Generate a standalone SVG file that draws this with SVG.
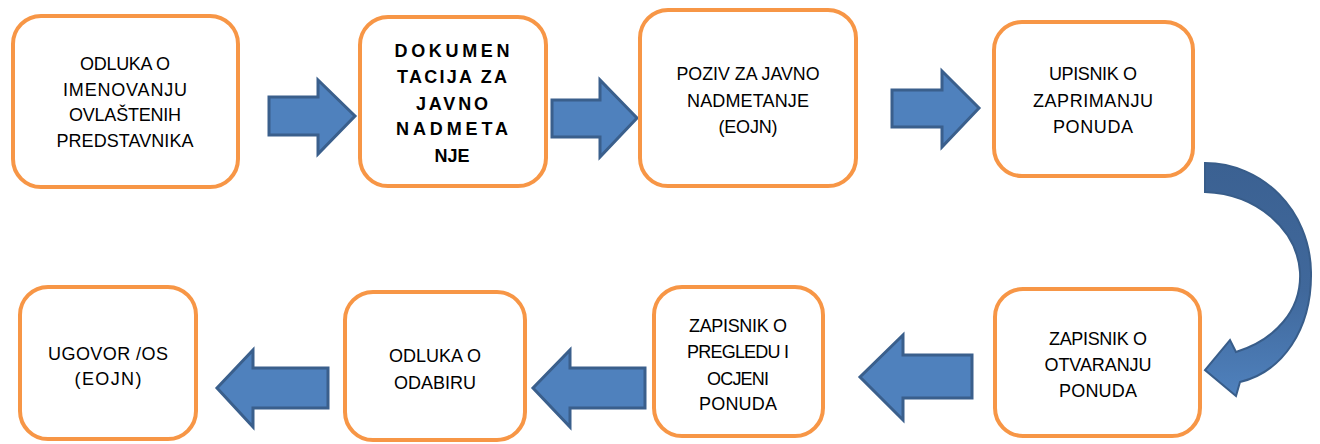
<svg xmlns="http://www.w3.org/2000/svg" width="1320" height="444" viewBox="0 0 1320 444">
<style>
.box{fill:#fff;stroke:#F79646;stroke-width:4}
.t{font-family:"Liberation Sans",Arial,sans-serif;font-size:18px;fill:#000;text-anchor:middle}
.b{font-weight:bold}
.arr{fill:#4F81BD;stroke:#3A5F8C;stroke-width:3;stroke-linejoin:miter}
</style>
<defs>
<linearGradient id="cg" x1="0" y1="163" x2="0" y2="396" gradientUnits="userSpaceOnUse">
<stop offset="0" stop-color="#3B6192"/>
<stop offset="0.55" stop-color="#40689B"/>
<stop offset="1" stop-color="#4F81BD"/>
</linearGradient>
</defs>
<rect width="1320" height="444" fill="#fff"/>
<g id="connectors">
<polygon class="arr" points="269,97 318,97 318,80 355,116 318,154 318,135 269,135"/>
<polygon class="arr" points="552,100 600,100 600,80 637,118 600,157 600,137 552,137"/>
<polygon class="arr" points="892,90 942,90 942,71 979,108 942,147 942,127 892,127"/>
<path d="M1205,163 C1262,163 1310,210 1311,272 C1312,330 1282,372 1240,382 L1236,396 L1205,370 L1230,340 L1236,352 C1275,340 1302,310 1300,272 C1297,230 1258,194 1205,192 Z" fill="url(#cg)" stroke="#385D8A" stroke-width="2"/>
<polygon class="arr" points="972,355 903,355 903,335 860,377 903,420 903,398 972,398"/>
<polygon class="arr" points="645,368 570,368 570,350 533,388 570,427 570,408 645,408"/>
<polygon class="arr" points="328,368 253,368 253,350 217,388 253,427 253,408 328,408"/>
</g>
<g id="n1">
<rect class="box" x="13" y="16" width="225" height="171" rx="28"/>
<text class="t" x="125" y="70" textLength="90" lengthAdjust="spacing">ODLUKA O</text>
<text class="t" x="125" y="95.5" textLength="124" lengthAdjust="spacing">IMENOVANJU</text>
<text class="t" x="125" y="121" textLength="112" lengthAdjust="spacing">OVLAŠTENIH</text>
<text class="t" x="125" y="147" textLength="137" lengthAdjust="spacing">PREDSTAVNIKA</text>
</g>
<g id="n2">
<rect class="box" x="360" y="17" width="186" height="169" rx="28"/>
<text class="t b" x="452" y="57" textLength="115" lengthAdjust="spacing">DOKUMEN</text>
<text class="t b" x="452" y="83" textLength="110" lengthAdjust="spacing">TACIJA  ZA</text>
<text class="t b" x="452" y="110" textLength="72" lengthAdjust="spacing">JAVNO</text>
<text class="t b" x="452" y="135" textLength="112" lengthAdjust="spacing">NADMETA</text>
<text class="t b" x="452" y="162" textLength="35" lengthAdjust="spacing">NJE</text>
</g>
<g id="n3">
<rect class="box" x="640" y="10" width="216" height="176" rx="28"/>
<text class="t" x="748" y="80" textLength="143" lengthAdjust="spacingAndGlyphs">POZIV ZA JAVNO</text>
<text class="t" x="748" y="107" textLength="122" lengthAdjust="spacing">NADMETANJE</text>
<text class="t" x="748" y="133" textLength="59" lengthAdjust="spacing">(EOJN)</text>
</g>
<g id="n4">
<rect class="box" x="994" y="22" width="199" height="154" rx="28"/>
<text class="t" x="1093" y="80" textLength="88" lengthAdjust="spacing">UPISNIK O</text>
<text class="t" x="1093" y="107" textLength="120" lengthAdjust="spacing">ZAPRIMANJU</text>
<text class="t" x="1093" y="133" textLength="80" lengthAdjust="spacing">PONUDA</text>
</g>
<g id="n5">
<rect class="box" x="995" y="289" width="205" height="147" rx="28"/>
<text class="t" x="1098" y="345" textLength="98" lengthAdjust="spacing">ZAPISNIK O</text>
<text class="t" x="1098" y="371" textLength="107" lengthAdjust="spacing">OTVARANJU</text>
<text class="t" x="1098" y="397" textLength="78" lengthAdjust="spacing">PONUDA</text>
</g>
<g id="n6">
<rect class="box" x="654" y="287" width="169" height="149" rx="28"/>
<text class="t" x="738" y="332" textLength="98" lengthAdjust="spacing">ZAPISNIK O</text>
<text class="t" x="738" y="358" textLength="102" lengthAdjust="spacing">PREGLEDU I</text>
<text class="t" x="738" y="385" textLength="62" lengthAdjust="spacing">OCJENI</text>
<text class="t" x="738" y="410" textLength="78" lengthAdjust="spacing">PONUDA</text>
</g>
<g id="n7">
<rect class="box" x="345" y="292" width="180" height="148" rx="28"/>
<text class="t" x="435" y="362" textLength="92" lengthAdjust="spacing">ODLUKA O</text>
<text class="t" x="435" y="389" textLength="82" lengthAdjust="spacing">ODABIRU</text>
</g>
<g id="n8">
<rect class="box" x="20" y="287" width="176" height="152" rx="28"/>
<text class="t" x="108" y="360" textLength="120" lengthAdjust="spacing">UGOVOR /OS</text>
<text class="t" x="108" y="385" textLength="67" lengthAdjust="spacing">(EOJN)</text>
</g>
</svg>
